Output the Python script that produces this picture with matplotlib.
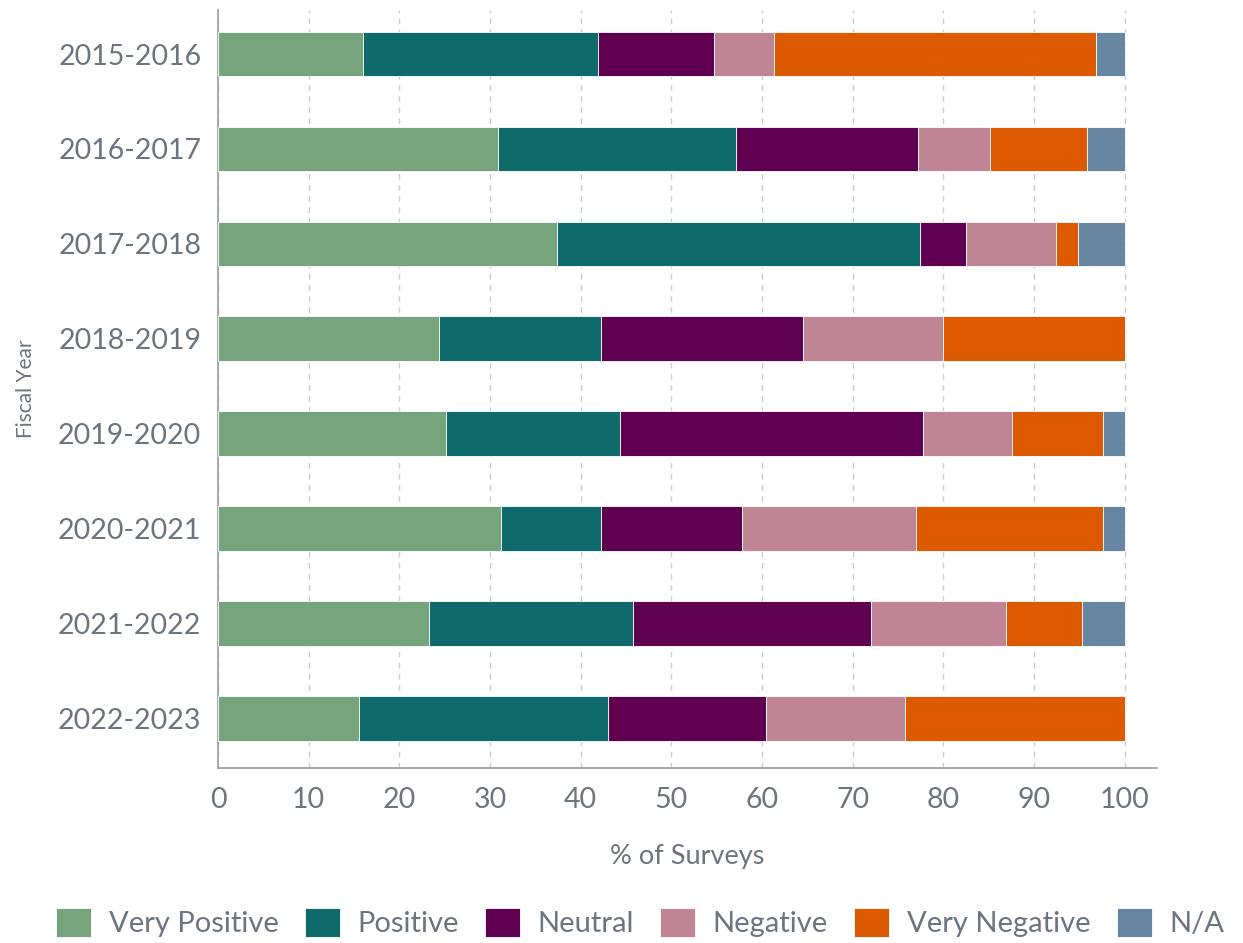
import matplotlib
matplotlib.use("Agg")
import matplotlib.pyplot as plt
import numpy as np

years = ["2015-2016", "2016-2017", "2017-2018", "2018-2019",
         "2019-2020", "2020-2021", "2021-2022", "2022-2023"]
categories = ["Very Positive", "Positive", "Neutral", "Negative", "Very Negative", "N/A"]
colors = ["#76a57d", "#0f6b6b", "#600050", "#c08595", "#dd5a00", "#6686a2"]

very_positive = [16.0, 30.9, 37.4, 24.4, 25.2, 31.2, 23.3, 15.5]
positive = [25.9, 26.2, 40.0, 17.8, 19.1, 11.0, 22.5, 27.5]
neutral = [12.8, 20.1, 5.1, 22.3, 33.5, 15.6, 26.2, 17.4]
negative = [6.6, 7.9, 9.9, 15.5, 9.8, 19.2, 14.9, 15.4]
very_negative = [35.5, 10.8, 2.5, 20.0, 10.0, 20.6, 8.4, 24.2]
na = [3.2, 4.1, 5.1, 0.0, 2.4, 2.4, 4.7, 0.0]

series = [very_positive, positive, neutral, negative, very_negative, na]

txt = "#6b7580"
plt.rcParams["font.family"] = ["Lato", "DejaVu Sans"]

fig = plt.figure(figsize=(12.43, 9.43), dpi=100)
ax = fig.add_axes([0.1754, 0.186, 0.7556, 0.803])

# stacked bars
y = np.arange(len(years))
left = np.zeros(len(years))
for vals, name, c in zip(series, categories, colors):
    vals = np.array(vals)
    ax.barh(y, vals, left=left, height=0.47, color=c, label=name,
            edgecolor="white", linewidth=0.6, zorder=3)
    left += vals

ax.set_ylim(7.52, -0.46)
ax.set_xlim(0, 103.6)
ax.set_xticks(range(0, 101, 10))
ax.set_yticks(y)
ax.set_yticklabels(years)
ax.tick_params(axis="both", length=0, colors=txt, labelsize=20.5)
ax.tick_params(axis="x", pad=14)
ax.tick_params(axis="y", pad=12)

ax.grid(axis="x", linestyle=(0, (4, 4)), color="#cccccc", linewidth=1, zorder=0)
for s in ["top", "right"]:
    ax.spines[s].set_visible(False)
for s in ["left", "bottom"]:
    ax.spines[s].set_color("#9aa1a8")
    ax.spines[s].set_linewidth(1.3)

ax.set_xlabel("% of Surveys", fontsize=19.5, color=txt, labelpad=22)
ax.set_ylabel("Fiscal Year", fontsize=15, color=txt, labelpad=16)

fig.legend(loc="lower center", bbox_to_anchor=(0.515, -0.022), ncol=6, frameon=False,
           fontsize=21, labelcolor=txt, handlelength=1.2, handleheight=1.2,
           handletextpad=0.6, columnspacing=0.9)

fig.savefig("out.png", dpi=100)
